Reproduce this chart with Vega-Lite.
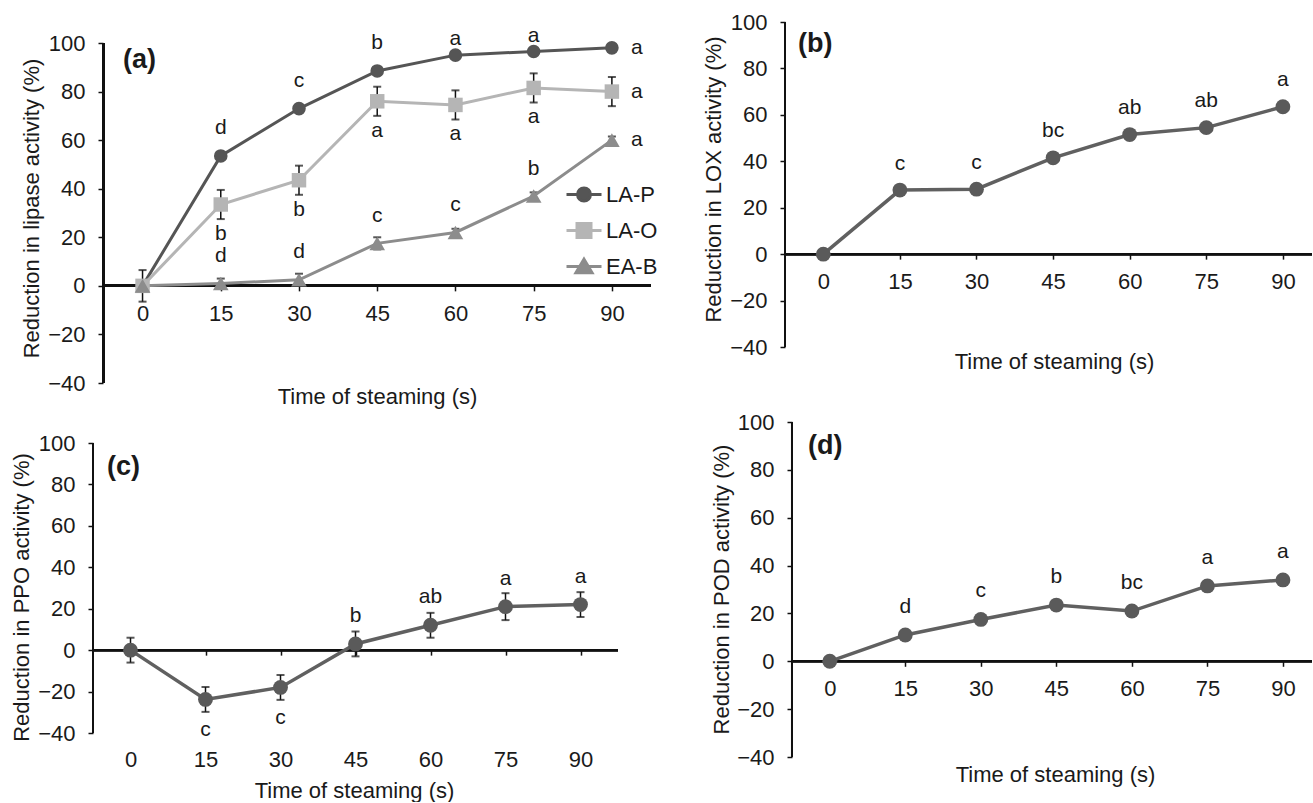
{
  "$schema": "https://vega.github.io/schema/vega-lite/v6.json",
  "background": "white",
  "padding": {"left": 10, "top": 11, "right": 0, "bottom": 0},
  "columns": 2,
  "spacing": {"row": 39, "column": 134},
  "bounds": "flush",
  "align": "each",
  "config": {
    "font": "Liberation Sans",
    "view": {"stroke": null},
    "axis": {
      "labelFontSize": 22, "labelColor": "#1a1a1a", "titleFontSize": 22, "titleFontWeight": "normal", "titleColor": "#1a1a1a",
      "tickColor": "#111111", "tickWidth": 1.5, "tickSize": 5, "grid": false, "domain": false, "labelFlush": false, "labelOverlap": false
    }
  },
  "concat": [
    {
      "width": 558, "height": 361,
      "title": {"text": "(a)", "anchor": "start", "frame": "group", "offset": -64.5, "baseline": "middle", "dx": 30, "fontSize": 27, "fontWeight": "bold", "color": "#1a1a1a"},
      "data": {"values": [
        {"series": "LA-P", "t": 0, "v": 0, "err": 1, "lab": ""},
        {"series": "LA-P", "t": 15, "v": 53.5, "err": 1, "lab": "d"},
        {"series": "LA-P", "t": 30, "v": 73, "err": 1, "lab": "c"},
        {"series": "LA-P", "t": 45, "v": 88.5, "err": 1, "lab": "b"},
        {"series": "LA-P", "t": 60, "v": 95, "err": 1, "lab": "a"},
        {"series": "LA-P", "t": 75, "v": 96.5, "err": 1, "lab": "a"},
        {"series": "LA-P", "t": 90, "v": 98, "err": 1, "lab": "a"},
        {"series": "LA-O", "t": 0, "v": 0, "err": 6.5, "lab": ""},
        {"series": "LA-O", "t": 15, "v": 33.5, "err": 6, "lab": "b"},
        {"series": "LA-O", "t": 30, "v": 43.5, "err": 6, "lab": "b"},
        {"series": "LA-O", "t": 45, "v": 76, "err": 6, "lab": "a"},
        {"series": "LA-O", "t": 60, "v": 74.5, "err": 6, "lab": "a"},
        {"series": "LA-O", "t": 75, "v": 81.5, "err": 6, "lab": "a"},
        {"series": "LA-O", "t": 90, "v": 80, "err": 6, "lab": "a"},
        {"series": "EA-B", "t": 0, "v": 0, "err": 1.5, "lab": ""},
        {"series": "EA-B", "t": 15, "v": 1, "err": 2, "lab": "d"},
        {"series": "EA-B", "t": 30, "v": 2.5, "err": 2.5, "lab": "d"},
        {"series": "EA-B", "t": 45, "v": 17.5, "err": 2.5, "lab": "c"},
        {"series": "EA-B", "t": 60, "v": 22, "err": 1.5, "lab": "c"},
        {"series": "EA-B", "t": 75, "v": 37, "err": 1.5, "lab": "b"},
        {"series": "EA-B", "t": 90, "v": 60, "err": 1.5, "lab": "a"}
      ]},
      "encoding": {
        "x": {"field": "t", "type": "quantitative", "scale": {"domain": [-9.5, 97.5], "nice": false, "zero": false},
              "axis": {"values": [0, 15, 30, 45, 60, 75, 90], "offset": -97.14, "labelPadding": 12.5, "title": "Time of steaming (s)", "titleX": 284, "titleY": 117.7, "titleAlign": "center", "titleBaseline": "alphabetic"}},
        "y": {"field": "v", "type": "quantitative", "scale": {"domain": [-40, 108.65], "nice": false, "zero": false},
              "axis": {"values": [-40, -20, 0, 20, 40, 60, 80, 100], "offset": -10, "labelPadding": 13, "title": "Reduction in lipase activity (%)", "titleX": -72, "titleY": 186, "titleAngle": -90, "titleAlign": "center", "titleBaseline": "middle"}}
      },
      "layer": [
        {"mark": {"type": "rule", "color": "#111111", "strokeWidth": 2}, "encoding": {"x": {"datum": -7.5, "type": "quantitative"}, "y": {"datum": -40, "type": "quantitative"}, "y2": {"datum": 100}}},
        {"mark": {"type": "rule", "color": "#111111", "strokeWidth": 2}, "encoding": {"x": {"datum": -7.5, "type": "quantitative"}, "x2": {"datum": 97.5}, "y": {"datum": 0, "type": "quantitative"}}},
        {"mark": {"type": "errorbar", "color": "#111111", "thickness": 1.5, "ticks": {"size": 8, "thickness": 2}}, "encoding": {"yError": {"field": "err"}}},
        {"transform": [{"filter": "datum.series == 'LA-P'"}], "mark": {"type": "line", "color": "#555555", "strokeWidth": 3}},
        {"transform": [{"filter": "datum.series == 'LA-O'"}], "mark": {"type": "line", "color": "#b5b5b5", "strokeWidth": 3}},
        {"transform": [{"filter": "datum.series == 'EA-B'"}], "mark": {"type": "line", "color": "#8c8c8c", "strokeWidth": 3}},
        {"transform": [{"filter": "datum.series == 'LA-P'"}], "mark": {"type": "point", "shape": "circle", "filled": true, "size": 185, "color": "#555555", "opacity": 1}},
        {"transform": [{"filter": "datum.series == 'LA-O'"}], "mark": {"type": "point", "shape": "square", "filled": true, "size": 210, "color": "#b5b5b5", "opacity": 1}},
        {"transform": [{"filter": "datum.series == 'EA-B'"}], "mark": {"type": "point", "shape": "triangle-up", "filled": true, "size": 245, "color": "#8c8c8c", "opacity": 1}},
        {"transform": [{"filter": "datum.series != 'LA-O' && datum.t < 60 && datum.lab != ''"}], "mark": {"type": "text", "fontSize": 21, "color": "#1a1a1a", "baseline": "middle", "dy": -27.5}, "encoding": {"text": {"field": "lab"}}},
        {"transform": [{"filter": "datum.series == 'EA-B' && datum.t >= 60 && datum.t < 90"}], "mark": {"type": "text", "fontSize": 21, "color": "#1a1a1a", "baseline": "middle", "dy": -27.5}, "encoding": {"text": {"field": "lab"}}},
        {"transform": [{"filter": "datum.series == 'LA-P' && datum.t >= 60 && datum.t < 90"}], "mark": {"type": "text", "fontSize": 21, "color": "#1a1a1a", "baseline": "middle", "dy": -16}, "encoding": {"text": {"field": "lab"}}},
        {"transform": [{"filter": "datum.series == 'LA-O' && datum.t < 90 && datum.lab != ''"}], "mark": {"type": "text", "fontSize": 21, "color": "#1a1a1a", "baseline": "middle", "dy": 29.5}, "encoding": {"text": {"field": "lab"}}},
        {"transform": [{"filter": "datum.t == 90"}], "mark": {"type": "text", "fontSize": 21, "color": "#1a1a1a", "baseline": "middle", "dx": 25}, "encoding": {"text": {"field": "lab"}}},
        {
          "mark": {"type": "point", "filled": true, "opacity": 0, "strokeWidth": 3},
          "encoding": {
            "shape": {"field": "series", "type": "nominal",
              "scale": {"domain": ["LA-P", "LA-O", "EA-B"], "range": ["M-1,0H1M0.37,0A0.37,0.37,0,1,1,-0.37,0A0.37,0.37,0,1,1,0.37,0Z", "M-1,0H1M-0.4,-0.4H0.4V0.4H-0.4Z", "M-1,0H1M0,-0.42L0.46,0.36H-0.46Z"]},
              "legend": {"title": null, "orient": "none", "legendX": 472, "legendY": 153.5, "symbolSize": 1225, "symbolStrokeWidth": 3, "symbolOpacity": 1, "labelFontSize": 22, "labelColor": "#1a1a1a", "labelOffset": 3, "rowPadding": 4, "padding": 0}},
            "fill": {"field": "series", "type": "nominal",
              "scale": {"domain": ["LA-P", "LA-O", "EA-B"], "range": ["#555555", "#b5b5b5", "#8c8c8c"]},
              "legend": {"title": null, "orient": "none", "legendX": 472, "legendY": 153.5, "symbolSize": 1225, "symbolStrokeWidth": 3, "symbolOpacity": 1, "labelFontSize": 22, "labelColor": "#1a1a1a", "labelOffset": 3, "rowPadding": 4, "padding": 0}},
            "stroke": {"field": "series", "type": "nominal",
              "scale": {"domain": ["LA-P", "LA-O", "EA-B"], "range": ["#555555", "#b5b5b5", "#8c8c8c"]},
              "legend": {"title": null, "orient": "none", "legendX": 472, "legendY": 153.5, "symbolSize": 1225, "symbolStrokeWidth": 3, "symbolOpacity": 1, "labelFontSize": 22, "labelColor": "#1a1a1a", "labelOffset": 3, "rowPadding": 4, "padding": 0}}
          }
        }
      ]
    },
    {
      "width": 527, "height": 325,
      "title": {"text": "(b)", "anchor": "start", "frame": "group", "offset": -59.5, "baseline": "middle", "dx": 13, "fontSize": 27, "fontWeight": "bold", "color": "#1a1a1a"},
      "data": {"values": [
        {"t": 0, "v": 0, "err": 1.5, "lab": ""},
        {"t": 15, "v": 27.6, "err": 2, "lab": "c"},
        {"t": 30, "v": 28, "err": 1.5, "lab": "c"},
        {"t": 45, "v": 41.5, "err": 2, "lab": "bc"},
        {"t": 60, "v": 51.5, "err": 2, "lab": "ab"},
        {"t": 75, "v": 54.5, "err": 2, "lab": "ab"},
        {"t": 90, "v": 63.5, "err": 1.5, "lab": "a"}
      ]},
      "encoding": {
        "x": {"field": "t", "type": "quantitative", "scale": {"domain": [-7.5, 95.7], "nice": false, "zero": false},
              "axis": {"values": [0, 15, 30, 45, 60, 75, 90], "offset": -92.86, "labelPadding": 12.5, "title": "Time of steaming (s)", "titleX": 269, "titleY": 114.5, "titleAlign": "center", "titleBaseline": "alphabetic"}},
        "y": {"field": "v", "type": "quantitative", "scale": {"domain": [-40, 100], "nice": false, "zero": false},
              "axis": {"values": [-40, -20, 0, 20, 40, 60, 80, 100], "offset": 0, "labelPadding": 13, "title": "Reduction in LOX activity (%)", "titleX": -71.5, "titleY": 157, "titleAngle": -90, "titleAlign": "center", "titleBaseline": "middle"}}
      },
      "layer": [
        {"mark": {"type": "rule", "color": "#111111", "strokeWidth": 2}, "encoding": {"x": {"datum": -7.5, "type": "quantitative"}, "y": {"datum": -40, "type": "quantitative"}, "y2": {"datum": 100}}},
        {"mark": {"type": "rule", "color": "#111111", "strokeWidth": 2}, "encoding": {"x": {"datum": -7.5, "type": "quantitative"}, "x2": {"datum": 95.7}, "y": {"datum": 0, "type": "quantitative"}}},
        {"mark": {"type": "errorbar", "color": "#111111", "thickness": 1.5, "ticks": {"size": 8, "thickness": 2}}, "encoding": {"yError": {"field": "err"}}},
        {"mark": {"type": "line", "color": "#606060", "strokeWidth": 3.5}},
        {"mark": {"type": "point", "shape": "circle", "filled": true, "size": 220, "color": "#5a5a5a", "opacity": 1}},
        {"transform": [{"filter": "datum.lab != ''"}], "mark": {"type": "text", "fontSize": 21, "color": "#1a1a1a", "baseline": "middle", "dy": -26.5}, "encoding": {"text": {"field": "lab"}}}
      ]
    },
    {
      "width": 525, "height": 311,
      "title": {"text": "(c)", "anchor": "start", "frame": "group", "offset": -71.5, "baseline": "middle", "dx": 14, "fontSize": 27, "fontWeight": "bold", "color": "#1a1a1a"},
      "data": {"values": [
        {"t": 0, "v": 0, "err": 6, "lab": ""},
        {"t": 15, "v": -23.8, "err": 6, "lab": "c"},
        {"t": 30, "v": -18, "err": 6, "lab": "c"},
        {"t": 45, "v": 3, "err": 6, "lab": "b"},
        {"t": 60, "v": 12, "err": 6, "lab": "ab"},
        {"t": 75, "v": 21, "err": 6.5, "lab": "a"},
        {"t": 90, "v": 22, "err": 6, "lab": "a"}
      ]},
      "encoding": {
        "x": {"field": "t", "type": "quantitative", "scale": {"domain": [-7.5, 97.5], "nice": false, "zero": false},
              "axis": {"values": [0, 15, 30, 45, 60, 75, 90], "offset": -82.86, "labelPadding": 94.5, "title": "Time of steaming (s)", "titleX": 261, "titleY": 147.5, "titleAlign": "center", "titleBaseline": "alphabetic"}},
        "y": {"field": "v", "type": "quantitative", "scale": {"domain": [-40, 110.14], "nice": false, "zero": false},
              "axis": {"values": [-40, -20, 0, 20, 40, 60, 80, 100], "offset": 0, "labelPadding": 13, "title": "Reduction in PPO activity (%)", "titleX": -72, "titleY": 175, "titleAngle": -90, "titleAlign": "center", "titleBaseline": "middle"}}
      },
      "layer": [
        {"mark": {"type": "rule", "color": "#111111", "strokeWidth": 2}, "encoding": {"x": {"datum": -7.5, "type": "quantitative"}, "y": {"datum": -40, "type": "quantitative"}, "y2": {"datum": 100}}},
        {"mark": {"type": "rule", "color": "#111111", "strokeWidth": 2}, "encoding": {"x": {"datum": -7.5, "type": "quantitative"}, "x2": {"datum": 97.5}, "y": {"datum": 0, "type": "quantitative"}}},
        {"mark": {"type": "errorbar", "color": "#111111", "thickness": 1.5, "ticks": {"size": 8, "thickness": 2}}, "encoding": {"yError": {"field": "err"}}},
        {"mark": {"type": "line", "color": "#606060", "strokeWidth": 3.5}},
        {"mark": {"type": "point", "shape": "circle", "filled": true, "size": 220, "color": "#5a5a5a", "opacity": 1}},
        {"transform": [{"filter": "datum.lab != '' && datum.v >= 0"}], "mark": {"type": "text", "fontSize": 21, "color": "#1a1a1a", "baseline": "middle", "dy": -28}, "encoding": {"text": {"field": "lab"}}},
        {"transform": [{"filter": "datum.lab != '' && datum.v < 0"}], "mark": {"type": "text", "fontSize": 21, "color": "#1a1a1a", "baseline": "middle", "dy": 31}, "encoding": {"text": {"field": "lab"}}}
      ]
    },
    {
      "width": 527, "height": 335,
      "title": {"text": "(d)", "anchor": "start", "frame": "group", "offset": -61.5, "baseline": "middle", "dx": 23, "fontSize": 27, "fontWeight": "bold", "color": "#1a1a1a"},
      "data": {"values": [
        {"t": 0, "v": 0, "err": 1.5, "lab": ""},
        {"t": 15, "v": 11, "err": 1.5, "lab": "d"},
        {"t": 30, "v": 17.5, "err": 1.5, "lab": "c"},
        {"t": 45, "v": 23.5, "err": 1.5, "lab": "b"},
        {"t": 60, "v": 21, "err": 1.5, "lab": "bc"},
        {"t": 75, "v": 31.5, "err": 2, "lab": "a"},
        {"t": 90, "v": 34, "err": 1.5, "lab": "a"}
      ]},
      "encoding": {
        "x": {"field": "t", "type": "quantitative", "scale": {"domain": [-8.89, 95.77], "nice": false, "zero": false},
              "axis": {"values": [0, 15, 30, 45, 60, 75, 90], "offset": -95.7, "labelPadding": 12.5, "title": "Time of steaming (s)", "titleX": 270, "titleY": 119.7, "titleAlign": "center", "titleBaseline": "alphabetic"}},
        "y": {"field": "v", "type": "quantitative", "scale": {"domain": [-40, 100], "nice": false, "zero": false},
              "axis": {"values": [-40, -20, 0, 20, 40, 60, 80, 100], "offset": -7, "labelPadding": 13, "title": "Reduction in POD activity (%)", "titleX": -71, "titleY": 167, "titleAngle": -90, "titleAlign": "center", "titleBaseline": "middle"}}
      },
      "layer": [
        {"mark": {"type": "rule", "color": "#111111", "strokeWidth": 2}, "encoding": {"x": {"datum": -7.5, "type": "quantitative"}, "y": {"datum": -40, "type": "quantitative"}, "y2": {"datum": 100}}},
        {"mark": {"type": "rule", "color": "#111111", "strokeWidth": 2}, "encoding": {"x": {"datum": -7.5, "type": "quantitative"}, "x2": {"datum": 95.77}, "y": {"datum": 0, "type": "quantitative"}}},
        {"mark": {"type": "errorbar", "color": "#111111", "thickness": 1.5, "ticks": {"size": 8, "thickness": 2}}, "encoding": {"yError": {"field": "err"}}},
        {"mark": {"type": "line", "color": "#606060", "strokeWidth": 3.5}},
        {"mark": {"type": "point", "shape": "circle", "filled": true, "size": 220, "color": "#5a5a5a", "opacity": 1}},
        {"transform": [{"filter": "datum.lab != ''"}], "mark": {"type": "text", "fontSize": 21, "color": "#1a1a1a", "baseline": "middle", "dy": -28}, "encoding": {"text": {"field": "lab"}}}
      ]
    }
  ]
}
